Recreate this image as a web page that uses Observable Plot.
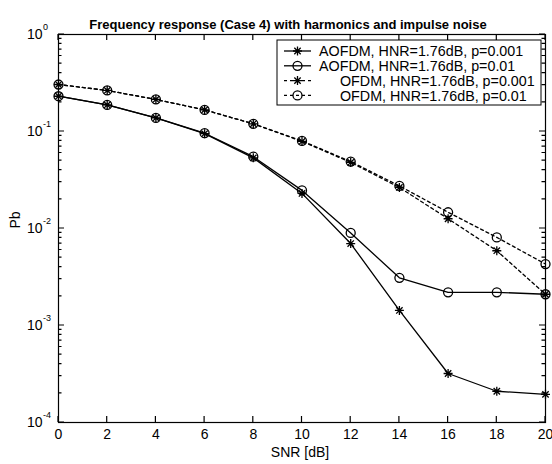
<!DOCTYPE html>
<html>
<head>
<meta charset="utf-8">
<script src="https://cdn.jsdelivr.net/npm/d3@7"></script>
<script src="https://cdn.jsdelivr.net/npm/@observablehq/plot@0.6"></script>
<style>
  body { margin: 0; background: #fff; }
  #chart svg { display: block; }
</style>
</head>
<body>
<div id="chart"></div>
<script>
const title = "Frequency response (Case 4) with harmonics and impulse noise";
const xLabel = "SNR [dB]";
const yLabel = "Pb";
const snr = [0, 2, 4, 6, 8, 10, 12, 14, 16, 18, 20];
const aofdm001 = [0.231, 0.188, 0.138, 0.095, 0.0535, 0.023, 0.0070, 0.00143, 0.00032, 0.00021, 0.000195];
const aofdm01 = [0.231, 0.188, 0.138, 0.096, 0.055, 0.0247, 0.0090, 0.0031, 0.0022, 0.0022, 0.0021];
const ofdm001 = [0.305, 0.265, 0.214, 0.167, 0.12, 0.079, 0.048, 0.0265, 0.0126, 0.0059, 0.0021];
const ofdm01 = [0.305, 0.265, 0.214, 0.167, 0.12, 0.080, 0.049, 0.0275, 0.0147, 0.0081, 0.0043];
const seriesNames = [
  "AOFDM, HNR=1.76dB, p=0.001",
  "AOFDM, HNR=1.76dB, p=0.01",
  "OFDM, HNR=1.76dB, p=0.001",
  "OFDM, HNR=1.76dB, p=0.01"
];
const xTicks = [0, 2, 4, 6, 8, 10, 12, 14, 16, 18, 20];
const yMajor = [1e-4, 1e-3, 1e-2, 1e-1, 1];
const yExponents = ["-4", "-3", "-2", "-1", "0"];
const yMinorFactors = [2, 3, 4, 5, 6, 7, 8, 9];

const yMinor = [];
for (const m of yMajor.slice(0, 4)) for (const f of yMinorFactors) yMinor.push(m * f);

const values = [aofdm001, aofdm01, ofdm001, ofdm01];
const markers = ["star", "circle", "star", "circle"];
const dashes = [null, null, "3,3", "3,3"];
const rows = [];
values.forEach((vals, s) => vals.forEach((v, i) => rows.push({series: seriesNames[s], s, x: snr[i], y: v})));

// 8-spoke asterisk like MATLAB '*'
const star = {
  draw(context, size) {
    const r = Math.sqrt(size / Math.PI);
    const d = r * Math.SQRT1_2;
    context.moveTo(-r, 0); context.lineTo(r, 0);
    context.moveTo(0, -r); context.lineTo(0, r);
    context.moveTo(-d, -d); context.lineTo(d, d);
    context.moveTo(-d, d); context.lineTo(d, -d);
  }
};
const symbolOf = (m) => m === "star" ? star : d3.symbolCircle;

const font = "Liberation Sans, Arial, Helvetica, sans-serif";

const W = 552, H = 464, mL = 58, mR = 7, mT = 34, mB = 42;
const fw = W - mL - mR, fh = H - mT - mB;

const marks = [];
values.forEach((vals, s) => {
  const data = rows.filter(r => r.s === s);
  marks.push(Plot.line(data, {x: "x", y: "y", stroke: "black", strokeWidth: 1.3, strokeDasharray: dashes[s]}));
  marks.push(Plot.dot(data, {x: "x", y: "y", r: 4.5, symbol: symbolOf(markers[s]), stroke: "black", strokeWidth: 1.3, fill: "none"}));
});

// Inward ticks drawn with the scales in a render function
function ticks(index, scales) {
  const g = d3.create("svg:g").attr("stroke", "black").attr("stroke-width", 1.2).attr("fill", "none");
  const x = scales.x, y = scales.y;
  const top = mT, bottom = H - mB, left = mL, right = W - mR;
  let p = "";
  for (const t of xTicks) { const px = x(t); p += `M${px},${bottom}v-6M${px},${top}v6`; }
  for (const t of yMajor) { const py = y(t); p += `M${left},${py}h6M${right},${py}h-6`; }
  for (const t of yMinor) { const py = y(t); p += `M${left},${py}h3.5M${right},${py}h-3.5`; }
  g.append("path").attr("d", p);
  return g.node();
}

// Legend
function legend(index, scales, channels, dims) {
  const g = d3.create("svg:g");
  const x0 = 277, y0 = 40, w = 264, h = 65;
  g.append("rect").attr("x", x0).attr("y", y0).attr("width", w).attr("height", h)
    .attr("fill", "white").attr("stroke", "black").attr("stroke-width", 1);
  seriesNames.forEach((name, s) => {
    const cy = y0 + 11 + s * 14.8;
    g.append("line").attr("x1", x0 + 7).attr("x2", x0 + 34).attr("y1", cy).attr("y2", cy)
      .attr("stroke", "black").attr("stroke-width", 1.3).attr("stroke-dasharray", dashes[s]);
    const sym = d3.symbol(symbolOf(markers[s]), Math.PI * 4.5 * 4.5);
    g.append("path").attr("d", sym()).attr("transform", `translate(${x0 + 20.5},${cy})`)
      .attr("stroke", "black").attr("stroke-width", 1.3).attr("fill", "none");
    g.append("text").attr("x", s < 2 ? 319 : 340).attr("y", cy).attr("dy", "0.36em")
      .attr("text-anchor", "start")
      .attr("font-size", 14.3).attr("font-family", font).attr("fill", "black").text(name);
  });
  return g.node();
}

const chart = Plot.plot({
  width: W,
  height: H,
  marginLeft: mL,
  marginRight: mR,
  marginTop: mT,
  marginBottom: mB,
  style: {fontFamily: font, fontSize: "14px", color: "black", background: "white"},
  x: {domain: [0, 20]},
  y: {type: "log", domain: [1e-4, 1], axis: null},
  marks: [
    Plot.frame({stroke: "black", strokeWidth: 1.2}),
    Plot.axisX({anchor: "bottom", ticks: xTicks, tickSize: 0, tickPadding: 7, fontSize: 14, label: null}),
    ticks,
    Plot.text(yMajor, {y: d => d, frameAnchor: "left", dx: -16, textAnchor: "end", text: () => "10", fontSize: 14}),
    Plot.text(yMajor, {y: d => d, frameAnchor: "left", dx: -15.5, dy: -7, textAnchor: "start", text: (d, i) => yExponents[i], fontSize: 9}),
    ...marks,
    legend,
    Plot.text([title], {frameAnchor: "top", dx: -14, dy: -15, text: d => d, fontSize: 13, fontWeight: "bold"}),
    Plot.text([xLabel], {frameAnchor: "bottom", dx: -2, dy: 34, text: d => d, fontSize: 14}),
    Plot.text([yLabel], {frameAnchor: "left", dx: -43, rotate: -90, text: d => d, fontSize: 14})
  ]
});
document.getElementById("chart").appendChild(chart);
</script>
</body>
</html>
